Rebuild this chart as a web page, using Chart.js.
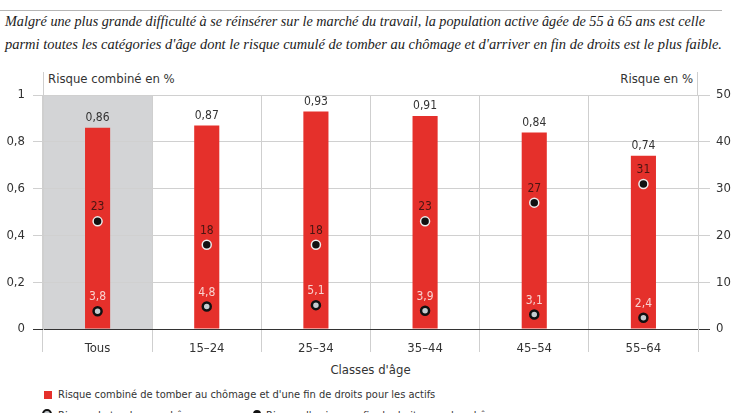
<!DOCTYPE html>
<html lang="fr">
<head>
<meta charset="utf-8">
<script src="https://cdn.jsdelivr.net/npm/chart.js@4.4.1/dist/chart.umd.min.js"></script>
<style>
  html, body { margin:0; padding:0; width:735px; height:413px; overflow:hidden; background:#fff; }
  body { position:relative; font-family:"DejaVu Sans Condensed","Liberation Sans Narrow","Roboto",sans-serif; color:#333; }
  .rule { position:absolute; left:0; top:10px; width:722px; height:1px; background:#b5b5b5; }
  .sub { position:absolute; left:5px; font-family:"Liberation Serif","DejaVu Serif",serif; font-style:italic; font-size:15.5px; color:#222; white-space:nowrap; transform-origin:0 0; line-height:18px; }
  #chartBox { position:absolute; left:0; top:56px; width:735px; height:320px; }
  .lbl { position:absolute; font-size:13px; white-space:nowrap; line-height:16px; color:#333; }
  .leg { position:absolute; font-size:11px; white-space:nowrap; line-height:14px; color:#333; }
  .sq { position:absolute; width:8px; height:8px; background:#e5302b; }
  .ring { position:absolute; width:6px; height:6px; border-radius:50%; border:2.5px solid #111; background:#c5ccd0; }
  .dot { position:absolute; width:8px; height:8px; border-radius:50%; background:#111; }
</style>
</head>
<body>
<div class="rule"></div>
<div class="sub" id="s1" style="top:12px;">Malgré une plus grande difficulté à se réinsérer sur le marché du travail, la population active âgée de 55 à 65 ans est celle</div>
<div class="sub" id="s2" style="top:35px;">parmi toutes les catégories d'âge dont le risque cumulé de tomber au chômage et d'arriver en fin de droits est le plus faible.</div>

<div class="lbl" style="left:48px; top:71px;">Risque combiné en %</div>
<div class="lbl" style="right:42px; top:71px;">Risque en %</div>
<div class="lbl" style="left:0; width:741px; text-align:center; top:362px;">Classes d'âge</div>

<div id="chartBox"><canvas id="c"></canvas></div>

<div class="sq" style="left:44px; top:391px;"></div>
<div class="leg" style="left:58px; top:388px;">Risque combiné de tomber au chômage et d'une fin de droits pour les actifs</div>
<div class="ring" style="left:42px; top:409px;"></div>
<div class="leg" style="left:58px; top:409px;">Risque de tomber au chômage</div>
<div class="dot" style="left:253px; top:410px;"></div>
<div class="leg" style="left:266px; top:409px;">Risque d'arriver en fin de droits pour les chômeurs</div>

<script>
// ---- data ----
const categories = ["Tous", "15–24", "25–34", "35–44", "45–54", "55–64"];
const risqueCombine = [0.86, 0.87, 0.93, 0.91, 0.84, 0.74];
const risqueFinDroits = [23, 18, 18, 23, 27, 31];
const risqueChomage = [3.8, 4.8, 5.1, 3.9, 3.1, 2.4];
const leftTicks = [0, 0.2, 0.4, 0.6, 0.8, 1];
const rightTicks = [0, 10, 20, 30, 40, 50];

// fit subtitle lines to target widths
function fitLine(id, w) {
  const el = document.getElementById(id);
  const cur = el.getBoundingClientRect().width;
  el.style.transform = 'scaleX(' + (w / cur) + ')';
}
fitLine('s1', 700);
fitLine('s2', 717);

const fmt = v => String(Math.round(v * 100) / 100).replace('.', ',');
const FONT = '"DejaVu Sans Condensed","Liberation Sans Narrow","Roboto",sans-serif';

const extras = {
  id: 'extras',
  beforeDraw(chart) {
    const ctx = chart.ctx, a = chart.chartArea, x = chart.scales.x;
    const half = (x.getPixelForValue(1) - x.getPixelForValue(0)) / 2;
    const cx = x.getPixelForValue(0);
    ctx.save();
    ctx.fillStyle = '#d3d4d6';
    ctx.fillRect(cx - half, a.top, half * 2, a.bottom - a.top);
    ctx.restore();
  },
  afterDraw(chart) {
    const ctx = chart.ctx, a = chart.chartArea;
    ctx.save();
    ctx.strokeStyle = '#cfcfcf';
    ctx.lineWidth = 1;
    ctx.beginPath();
    ctx.moveTo(a.left + 0.5, a.top - 23); ctx.lineTo(a.left + 0.5, a.top);
    ctx.moveTo(a.right - 0.5, a.top - 23); ctx.lineTo(a.right - 0.5, a.top);
    ctx.stroke();
    ctx.restore();
  },
  afterDatasetsDraw(chart) {
    const ctx = chart.ctx;
    ctx.save();
    ctx.textAlign = 'center';
    ctx.textBaseline = 'middle';
    ctx.font = '12px ' + FONT;
    chart.data.datasets.forEach((ds, i) => {
      const meta = chart.getDatasetMeta(i);
      meta.data.forEach((el, j) => {
        ctx.fillStyle = ds.labelColor;
        ctx.fillText(fmt(ds.data[j]), el.x, el.y - ds.labelOffset);
      });
    });
    ctx.restore();
  }
};

new Chart(document.getElementById('c'), {
  data: {
    labels: categories,
    datasets: [
      {
        type: 'line', label: "Risque d'arriver en fin de droits pour les chômeurs",
        data: risqueFinDroits, yAxisID: 'y2', showLine: false, order: 0,
        pointStyle: 'circle', pointRadius: 4.5, pointHoverRadius: 4.5,
        pointBackgroundColor: '#111', pointBorderColor: '#ececec', pointBorderWidth: 1.5,
        labelColor: '#4a1512', labelOffset: 14
      },
      {
        type: 'line', label: 'Risque de tomber au chômage',
        data: risqueChomage, yAxisID: 'y2', showLine: false, order: 1,
        pointStyle: 'circle', pointRadius: 4, pointHoverRadius: 4,
        pointBackgroundColor: '#c5ccd0', pointBorderColor: '#111', pointBorderWidth: 2.5,
        labelColor: '#f9d2cf', labelOffset: 14
      },
      {
        type: 'bar', label: "Risque combiné de tomber au chômage et d'une fin de droits pour les actifs",
        data: risqueCombine, yAxisID: 'y', order: 2,
        backgroundColor: '#e5302b', barPercentage: 0.23, categoryPercentage: 1,
        labelColor: '#333', labelOffset: 10
      }
    ]
  },
  options: {
    responsive: true, maintainAspectRatio: false, animation: false,
    layout: { padding: { top: 39, left: 0, right: 0, bottom: 0 } },
    plugins: { legend: { display: false }, tooltip: { enabled: false } },
    scales: {
      x: {
        offset: true,
        grid: { offset: true, color: '#cfcfcf', tickLength: 23, drawTicks: true },
        border: { color: '#333', width: 1 },
        ticks: { color: '#333', font: { family: FONT, size: 13 }, padding: -11 },
        afterFit(s) { s.height = 47; }
      },
      y: {
        position: 'left', min: 0, max: 1,
        afterBuildTicks(s) { s.ticks = leftTicks.map(v => ({ value: v })); },
        grid: { color: c => c.tick && c.tick.value === 0 ? '#333' : '#d0d0d0', tickLength: 10 },
        border: { color: '#cfcfcf' },
        ticks: { color: '#333', font: { family: FONT, size: 13 }, padding: 8, callback: v => fmt(v) },
        afterFit(s) { s.width = 43; }
      },
      y2: {
        position: 'right', min: 0, max: 50,
        afterBuildTicks(s) { s.ticks = rightTicks.map(v => ({ value: v })); },
        grid: { drawOnChartArea: false, color: c => c.tick && c.tick.value === 0 ? '#333' : '#d0d0d0', tickLength: 12 },
        border: { color: '#cfcfcf' },
        ticks: { color: '#333', font: { family: FONT, size: 13 }, padding: 6, callback: v => fmt(v) },
        afterFit(s) { s.width = 37; }
      }
    }
  },
  plugins: [extras]
});
</script>
</body>
</html>
